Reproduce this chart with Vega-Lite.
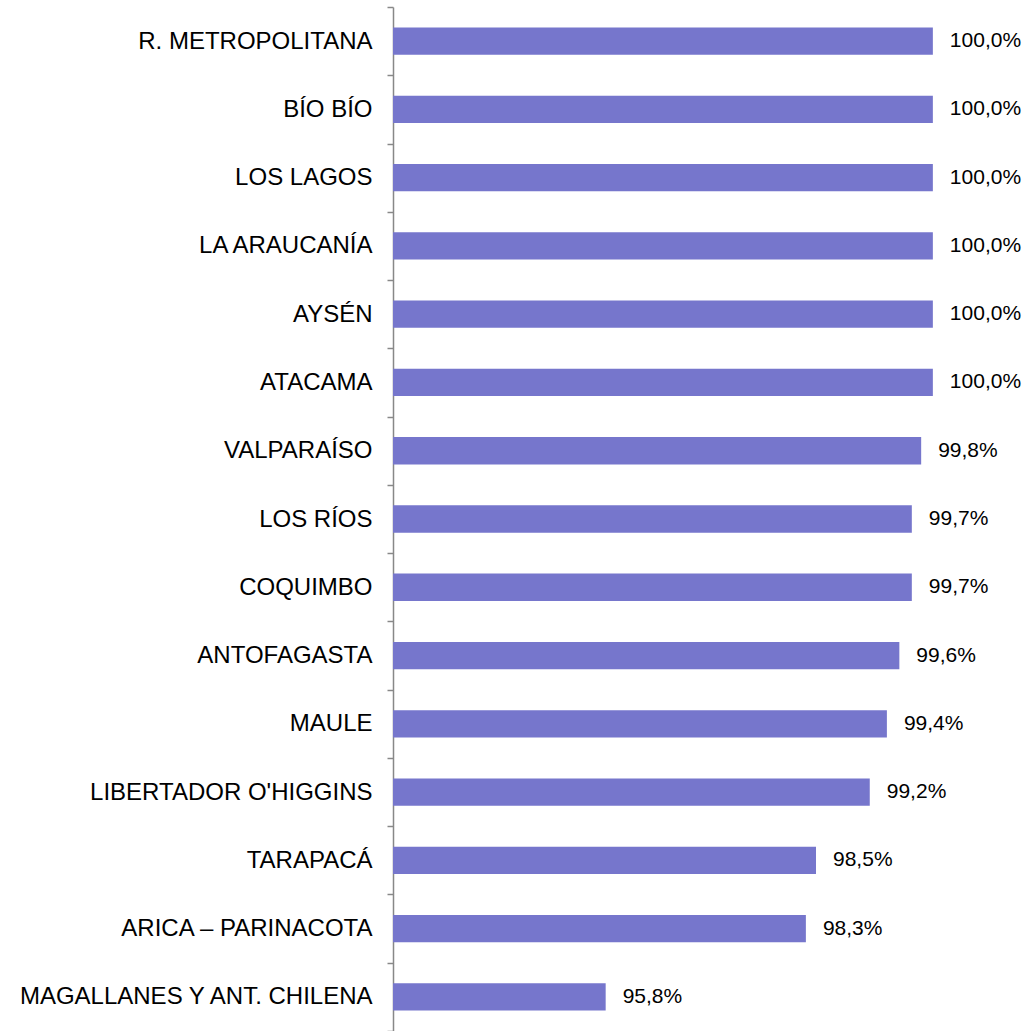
{
  "$schema": "https://vega.github.io/schema/vega-lite/v6.json",
  "width": 631,
  "height": 1024,
  "autosize": {"type": "none"},
  "padding": {"left": 393, "top": 7, "right": 0, "bottom": 0},
  "background": "white",
  "config": {"view": {"stroke": null}},
  "data": {
    "values": [
      {"region": "R. METROPOLITANA", "value": 100.0, "label": "100,0%"},
      {"region": "BÍO BÍO", "value": 100.0, "label": "100,0%"},
      {"region": "LOS LAGOS", "value": 100.0, "label": "100,0%"},
      {"region": "LA ARAUCANÍA", "value": 100.0, "label": "100,0%"},
      {"region": "AYSÉN", "value": 100.0, "label": "100,0%"},
      {"region": "ATACAMA", "value": 100.0, "label": "100,0%"},
      {"region": "VALPARAÍSO", "value": 99.85, "label": "99,8%"},
      {"region": "LOS RÍOS", "value": 99.73, "label": "99,7%"},
      {"region": "COQUIMBO", "value": 99.73, "label": "99,7%"},
      {"region": "ANTOFAGASTA", "value": 99.57, "label": "99,6%"},
      {"region": "MAULE", "value": 99.41, "label": "99,4%"},
      {"region": "LIBERTADOR O'HIGGINS", "value": 99.19, "label": "99,2%"},
      {"region": "TARAPACÁ", "value": 98.5, "label": "98,5%"},
      {"region": "ARICA – PARINACOTA", "value": 98.37, "label": "98,3%"},
      {"region": "MAGALLANES Y ANT. CHILENA", "value": 95.8, "label": "95,8%"}
    ]
  },
  "encoding": {
    "y": {
      "field": "region",
      "type": "nominal",
      "sort": null,
      "scale": {"paddingInner": 0, "paddingOuter": 0},
      "axis": {
        "title": null,
        "domainColor": "#888888",
        "domainWidth": 1.5,
        "tickColor": "#888888",
        "tickWidth": 1.5,
        "tickSize": 6,
        "tickBand": "extent",
        "labelFont": "Liberation Sans",
        "labelFontSize": 24,
        "labelColor": "#000000",
        "labelPadding": 15,
        "labelLimit": 500
      }
    }
  },
  "layer": [
    {
      "mark": {"type": "bar", "color": "#7676cc", "height": {"band": 0.4}},
      "encoding": {
        "x": {
          "field": "value",
          "type": "quantitative",
          "scale": {"domain": [93.07, 101.17], "zero": false, "nice": false},
          "axis": null
        },
        "x2": {"datum": 93.07}
      }
    },
    {
      "mark": {"type": "text", "align": "left", "baseline": "middle", "dx": 17, "font": "Liberation Sans", "fontSize": 21, "color": "#000000"},
      "encoding": {
        "x": {"field": "value", "type": "quantitative"},
        "text": {"field": "label"}
      }
    }
  ]
}
